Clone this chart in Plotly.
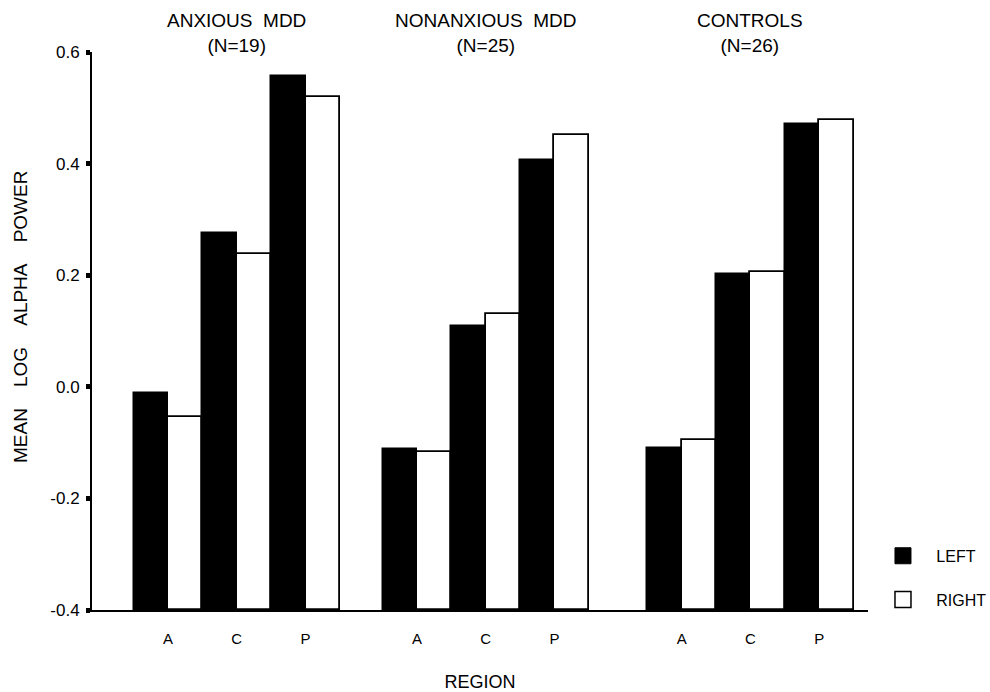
import plotly.graph_objects as go

groups = ["ANXIOUS\u00a0\u00a0MDD", "NONANXIOUS\u00a0\u00a0MDD", "CONTROLS"]
group_n = ["(N=19)", "(N=25)", "(N=26)"]
regions = ["A", "C", "P"]

left_vals = [
    [-0.011, 0.276, 0.557],   # anxious MDD
    [-0.111, 0.109, 0.406],   # nonanxious MDD
    [-0.109, 0.202, 0.471],   # controls
]
right_vals = [
    [-0.054, 0.238, 0.520],
    [-0.116, 0.131, 0.452],
    [-0.096, 0.206, 0.478],
]

y_tick_vals = [-0.4, -0.2, 0.0, 0.2, 0.4, 0.6]
y_tick_text = ["-0.4", "-0.2", "0.0", "0.2", "0.4", "0.6"]

# layout: group offsets along the numeric x axis
group_offsets = [0.0, 3.62, 7.47]

xs, xlab, lv, rv = [], [], [], []
for g, off in enumerate(group_offsets):
    for r, reg in enumerate(regions):
        xs.append(off + r)
        xlab.append(reg)
        lv.append(left_vals[g][r])
        rv.append(right_vals[g][r])

BASE = -0.4
FONT = "Arial, Liberation Sans, Helvetica, sans-serif"
SP = "\u00a0\u00a0\u00a0"

fig = go.Figure()
fig.add_trace(go.Bar(
    x=xs, y=[v - BASE for v in lv], base=BASE, name="LEFT",
    marker=dict(color="black", line=dict(color="black", width=1.5)),
    showlegend=False,
))
fig.add_trace(go.Bar(
    x=xs, y=[v - BASE for v in rv], base=BASE, name="RIGHT",
    marker=dict(color="white", line=dict(color="black", width=1.8)),
    showlegend=False,
))
# legend swatches
fig.add_trace(go.Scatter(
    x=[None], y=[None], mode="markers", name=SP + "LEFT", legendgroup="L",
    marker=dict(symbol="square", size=18, color="black", line=dict(color="black", width=1)),
))
fig.add_trace(go.Scatter(
    x=[None], y=[None], mode="markers", name=SP + "RIGHT", legendgroup="R",
    marker=dict(symbol="square", size=18, color="white", line=dict(color="black", width=1.5)),
))

for g, off in enumerate(group_offsets):
    fig.add_annotation(
        x=off + 1, xref="x", y=1.0, yref="paper", yanchor="bottom",
        yshift=-6, text=groups[g] + "<br>" + group_n[g], showarrow=False,
        font=dict(family=FONT, size=19, color="black"),
    )

# y-axis title as a rotated annotation (positioned like the original)
fig.add_annotation(
    x=-0.0928, xref="paper", y=0.525, yref="paper",
    xanchor="center", yanchor="middle", textangle=-90, showarrow=False,
    text="MEAN" + SP + "\u00a0LOG" + SP + "\u00a0ALPHA" + SP + "\u00a0POWER",
    font=dict(family=FONT, size=19, color="black"),
)

fig.update_layout(
    width=990, height=692,
    margin=dict(l=92, r=122, t=52, b=82, autoexpand=False),
    paper_bgcolor="white", plot_bgcolor="white",
    barmode="group", bargap=0, bargroupgap=0,
    font=dict(family=FONT, color="black"),
    legend=dict(
        x=1.0193, xanchor="left", y=0.1275, yanchor="top",
        font=dict(family=FONT, size=16, color="black"),
        tracegroupgap=20, itemwidth=30, itemsizing="trace",
        bgcolor="rgba(0,0,0,0)",
    ),
    showlegend=True,
)
fig.update_xaxes(
    range=[-1.105, 10.18], tickvals=xs, ticktext=xlab,
    showline=True, linecolor="black", linewidth=2,
    showgrid=False, zeroline=False, ticks="", automargin=False,
    tickfont=dict(family=FONT, size=15, color="black"),
    ticklabelstandoff=14,
    title=dict(text="REGION", font=dict(family=FONT, size=18, color="black"), standoff=30),
)
fig.update_yaxes(
    range=[-0.4, 0.6], tickvals=y_tick_vals, ticktext=y_tick_text,
    showline=True, linecolor="black", linewidth=2,
    showgrid=False, zeroline=False, automargin=False,
    ticks="outside", ticklen=4, tickwidth=5, tickcolor="black",
    ticklabelstandoff=3,
    tickfont=dict(family=FONT, size=17, color="black"),
)

fig.write_html("out.html", config={"displayModeBar": False},
               post_script="document.body.style.margin='0';")
